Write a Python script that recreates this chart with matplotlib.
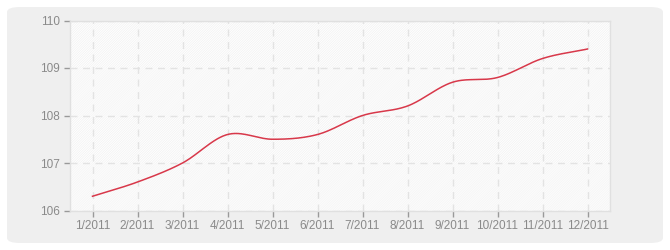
import numpy as np
import matplotlib
matplotlib.use('Agg')
import matplotlib.pyplot as plt
from matplotlib.patches import FancyBboxPatch

months = ['1/2011', '2/2011', '3/2011', '4/2011', '5/2011', '6/2011',
          '7/2011', '8/2011', '9/2011', '10/2011', '11/2011', '12/2011']
values = [106.3, 106.6, 107.0, 107.6, 107.5, 107.6,
          108.0, 108.2, 108.7, 108.8, 109.2, 109.4]
y_ticks = [106, 107, 108, 109, 110]


def catmull_rom(xs, ys, n=30):
    # smooth line through the points, like the original chart
    xs = np.asarray(xs, float)
    ys = np.asarray(ys, float)
    px = np.concatenate([[2 * xs[0] - xs[1]], xs, [2 * xs[-1] - xs[-2]]])
    py = np.concatenate([[2 * ys[0] - ys[1]], ys, [2 * ys[-1] - ys[-2]]])
    out_x, out_y = [], []
    t = np.linspace(0, 1, n, endpoint=False)
    for i in range(1, len(px) - 2):
        for p, out in ((px, out_x), (py, out_y)):
            p0, p1, p2, p3 = p[i - 1], p[i], p[i + 1], p[i + 2]
            out.extend(0.5 * (2 * p1 + (-p0 + p2) * t
                              + (2 * p0 - 5 * p1 + 4 * p2 - p3) * t ** 2
                              + (-p0 + 3 * p1 - 3 * p2 + p3) * t ** 3))
    out_x.append(xs[-1])
    out_y.append(ys[-1])
    return np.array(out_x), np.array(out_y)


plt.rcParams['hatch.linewidth'] = 0.5
plt.rcParams['font.family'] = ['Liberation Sans', 'DejaVu Sans']

fig = plt.figure(figsize=(6.7, 2.5), dpi=100)
fig.patch.set_facecolor('white')
bg = FancyBboxPatch((7 / 670, 7 / 250), 656 / 670, 236 / 250,
                    boxstyle='round,pad=0,rounding_size=0.02',
                    transform=fig.transFigure, fc='#efefef', ec='none', zorder=-10)
fig.patches.append(bg)

ax = fig.add_axes([70 / 670, 1 - 210.5 / 250, 540 / 670, 190 / 250])
ax.set_facecolor('white')

x = np.arange(len(months))
ax.set_xlim(-0.5, len(months) - 0.5)
ax.set_ylim(106, 110)

# alternating hatched bands
for lo in y_ticks[:-1]:
    if lo % 2 == 0:
        ax.axhspan(lo, lo + 1, fc='#fcfcfc', ec='#f5f5f5', hatch='/' * 14, lw=0, zorder=0)
    else:
        ax.axhspan(lo, lo + 1, fc='white', ec='#f1f1f1', hatch='/' * 14, lw=0, zorder=0)

ax.grid(True, color='#e3e3e3', linestyle=(0, (5, 4)), linewidth=1)
ax.set_axisbelow(True)

sx, sy = catmull_rom(x, values)
ax.plot(sx, sy, color='#d8384a', linewidth=1.1, zorder=3)

ax.set_xticks(x)
ax.set_xticklabels(months)
ax.set_yticks(y_ticks)
ax.tick_params(colors='#999999', labelcolor='#8a8a8a', labelsize=8.5,
               length=4, width=1, direction='out', pad=3)
for s in ax.spines.values():
    s.set_color('#e0e0e0')
    s.set_linewidth(1)

fig.savefig('out.png', dpi=100)
